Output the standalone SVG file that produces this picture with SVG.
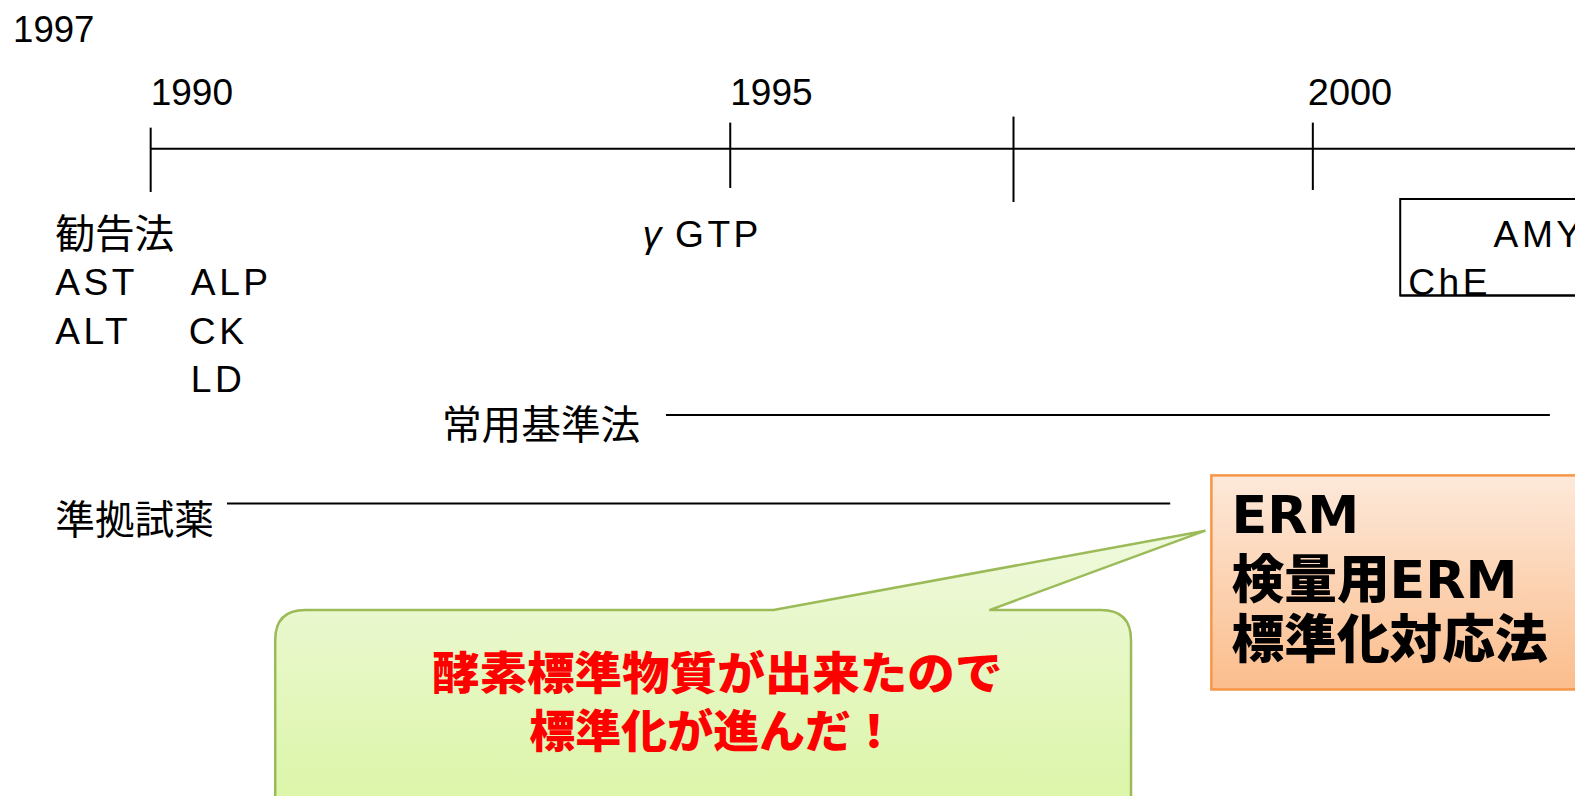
<svg xmlns="http://www.w3.org/2000/svg" width="1575" height="796" viewBox="0 0 1575 796">
<defs>
<linearGradient id="gOrange" x1="0" y1="0" x2="0" y2="1">
<stop offset="0" stop-color="#FDE9DA"/>
<stop offset="1" stop-color="#FBBD8C"/>
</linearGradient>
<linearGradient id="gGreen" x1="0" y1="0" x2="0" y2="1">
<stop offset="0" stop-color="#F0F9DE"/>
<stop offset="1" stop-color="#D9F5A2"/>
</linearGradient>
<style>
.y{font-family:"Liberation Sans",sans-serif;font-size:37px;fill:#000}
.t{font-family:"Liberation Sans","Noto Sans CJK JP",sans-serif;font-size:37px;letter-spacing:3.5px;fill:#000}
.j{font-family:"Noto Sans CJK JP",sans-serif;font-size:39.5px;fill:#000}
.ln{stroke:#000;stroke-width:2;fill:none}
.b{font-family:"DejaVu Sans","Noto Sans CJK JP",sans-serif;font-weight:bold;font-size:52px;fill:#000}
.bj{font-family:"Noto Sans CJK JP",sans-serif;font-weight:900;font-size:52.5px}
.r{font-family:"Noto Sans CJK JP",sans-serif;font-weight:900;font-size:45px;fill:#FF0000;text-anchor:middle}
</style>
</defs>
<rect width="1575" height="796" fill="#fff"/>
<g transform="scale(1.00446 1.00505)">
<g id="connectors">
<line class="ln" x1="150" y1="148" x2="1575" y2="148"/>
<line class="ln" x1="150" y1="127" x2="150" y2="191"/>
<line class="ln" x1="727" y1="122" x2="727" y2="187"/>
<line class="ln" x1="1009" y1="116" x2="1009" y2="201"/>
<line class="ln" x1="1307" y1="122" x2="1307" y2="189"/>
<line class="ln" x1="663" y1="413" x2="1543" y2="413"/>
<line class="ln" x1="226" y1="501" x2="1165" y2="501"/>
</g>
<g id="years">
<text class="y" x="13" y="42" textLength="81" lengthAdjust="spacingAndGlyphs">1997</text>
<text class="y" x="150" y="104" textLength="82" lengthAdjust="spacingAndGlyphs">1990</text>
<text class="y" x="727" y="104" textLength="82" lengthAdjust="spacingAndGlyphs">1995</text>
<text class="y" x="1302" y="104" textLength="84" lengthAdjust="spacingAndGlyphs">2000</text>
</g>
<g id="kankoku">
<text class="j" x="55" y="247">勧告法</text>
<text class="t" x="55" y="294">AST</text>
<text class="t" x="190" y="294">ALP</text>
<text class="t" x="55" y="342">ALT</text>
<text class="t" x="188" y="342">CK</text>
<text class="t" x="190" y="390">LD</text>
</g>
<g id="ggtp">
<text class="t" x="640" y="246"><tspan font-style="italic">γ</tspan><tspan x="672">GTP</tspan></text>
</g>
<g id="amy-box">
<rect x="1394" y="198" width="200" height="96" fill="#fff" stroke="#000" stroke-width="2"/>
<text class="t" x="1487" y="246">AMY</text>
<text class="t" x="1402" y="294">ChE</text>
<line class="ln" x1="1394" y1="294" x2="1575" y2="294"/>
</g>
<g id="joyo">
<text class="j" x="440" y="437">常用基準法</text>
</g>
<g id="junkyo">
<text class="j" x="55" y="531">準拠試薬</text>
</g>
<g id="erm-box">
<rect x="1206" y="473" width="390" height="213" fill="url(#gOrange)" stroke="#F79646" stroke-width="2.5"/>
<text class="b" x="1226" y="530">ERM</text>
<text class="b" x="1226" y="595"><tspan class="bj">検量用</tspan>ERM</text>
<text class="b" x="1226" y="655"><tspan class="bj">標準化対応法</tspan></text>
</g>
<g id="callout">
<path d="M304,607 L770,607 L1200,528 L985,607 L1096,607 Q1126,607 1126,637 L1126,830 L274,830 L274,637 Q274,607 304,607 Z" fill="url(#gGreen)" stroke="#9BBB59" stroke-width="2.5"/>
<text class="r" x="714" y="687" textLength="568" lengthAdjust="spacingAndGlyphs">酵素標準物質が出来たので</text>
<text class="r" x="710" y="744" textLength="366" lengthAdjust="spacingAndGlyphs">標準化が進んだ！</text>
</g>
</g>
</svg>
